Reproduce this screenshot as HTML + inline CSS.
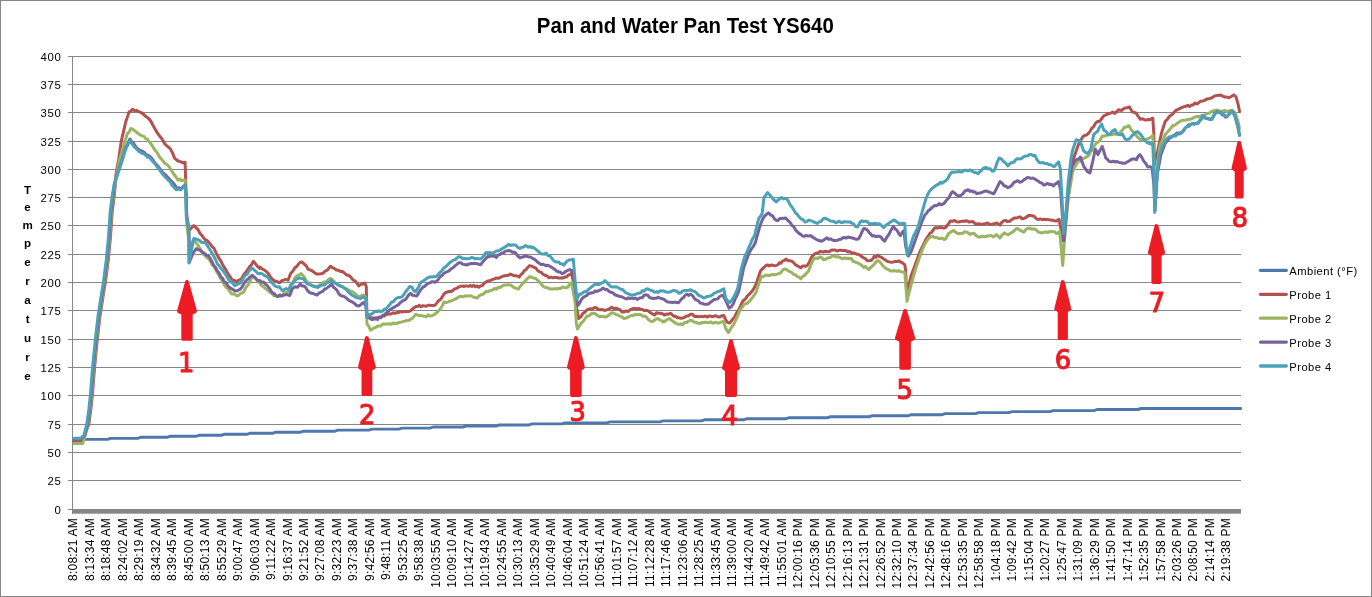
<!DOCTYPE html>
<html lang="en"><head><meta charset="utf-8"><title>Pan and Water Pan Test YS640</title>
<style>
html,body{margin:0;padding:0;background:#fff;}
body{width:1372px;height:597px;overflow:hidden;font-family:"Liberation Sans",sans-serif;}
svg{display:block;}
text{font-family:"Liberation Sans",sans-serif;fill:#000;}
.yl{font-size:11.4px;letter-spacing:0.6px;text-anchor:end;}
.xl{font-size:12px;letter-spacing:0.22px;text-anchor:end;}
.lg{font-size:11.2px;letter-spacing:0.45px;}
.yt{font-size:11.6px;font-weight:bold;text-anchor:middle;}
.num{font-family:"DejaVu Sans","Liberation Sans",sans-serif;font-size:25.7px;font-weight:normal;fill:#ed1c24;stroke:#ed1c24;stroke-width:1.1px;stroke-linejoin:round;text-anchor:middle;}
.s{fill:none;stroke-width:3.0;stroke-linejoin:round;stroke-linecap:round;}
</style></head><body>
<svg width="1372" height="597" viewBox="0 0 1372 597">
<rect x="0" y="0" width="1372" height="597" fill="#fff"/>
<rect x="0.5" y="0.5" width="1371" height="596" fill="none" stroke="#868686" stroke-width="1"/>
<text x="685.3" y="33.2" text-anchor="middle" font-size="22.3" font-weight="bold" textLength="297" lengthAdjust="spacingAndGlyphs">Pan and Water Pan Test YS640</text>

<g stroke="#868686" stroke-width="1" shape-rendering="crispEdges">
<line x1="68" y1="56.5" x2="1241" y2="56.5"/>
<line x1="68" y1="84.5" x2="1241" y2="84.5"/>
<line x1="68" y1="112.5" x2="1241" y2="112.5"/>
<line x1="68" y1="141.5" x2="1241" y2="141.5"/>
<line x1="68" y1="169.5" x2="1241" y2="169.5"/>
<line x1="68" y1="197.5" x2="1241" y2="197.5"/>
<line x1="68" y1="225.5" x2="1241" y2="225.5"/>
<line x1="68" y1="254.5" x2="1241" y2="254.5"/>
<line x1="68" y1="282.5" x2="1241" y2="282.5"/>
<line x1="68" y1="310.5" x2="1241" y2="310.5"/>
<line x1="68" y1="339.5" x2="1241" y2="339.5"/>
<line x1="68" y1="367.5" x2="1241" y2="367.5"/>
<line x1="68" y1="395.5" x2="1241" y2="395.5"/>
<line x1="68" y1="424.5" x2="1241" y2="424.5"/>
<line x1="68" y1="452.5" x2="1241" y2="452.5"/>
<line x1="68" y1="480.5" x2="1241" y2="480.5"/>
<line x1="68" y1="509.5" x2="1241" y2="509.5"/>
<line x1="72.5" y1="56" x2="72.5" y2="514"/>
</g>
<rect x="72" y="509" width="1169" height="4.7" fill="#868686"/>
<g class="yl">
<text class="yl" x="61.4" y="61.0">400</text>
<text class="yl" x="61.4" y="89.0">375</text>
<text class="yl" x="61.4" y="117.0">350</text>
<text class="yl" x="61.4" y="146.0">325</text>
<text class="yl" x="61.4" y="174.0">300</text>
<text class="yl" x="61.4" y="202.0">275</text>
<text class="yl" x="61.4" y="230.0">250</text>
<text class="yl" x="61.4" y="259.0">225</text>
<text class="yl" x="61.4" y="287.0">200</text>
<text class="yl" x="61.4" y="315.0">175</text>
<text class="yl" x="61.4" y="344.0">150</text>
<text class="yl" x="61.4" y="372.0">125</text>
<text class="yl" x="61.4" y="400.0">100</text>
<text class="yl" x="61.4" y="429.0">75</text>
<text class="yl" x="61.4" y="457.0">50</text>
<text class="yl" x="61.4" y="485.0">25</text>
<text class="yl" x="61.4" y="514.0">0</text>
</g>
<text class="yt" x="27.6" y="193.6">T</text>
<text class="yt" x="27.6" y="211.3">e</text>
<text class="yt" x="27.6" y="229.4">m</text>
<text class="yt" x="27.6" y="247.4">p</text>
<text class="yt" x="27.6" y="265.9">e</text>
<text class="yt" x="27.6" y="285.1">r</text>
<text class="yt" x="27.6" y="303.6">a</text>
<text class="yt" x="27.6" y="322.6">t</text>
<text class="yt" x="27.6" y="342.1">u</text>
<text class="yt" x="27.6" y="360.6">r</text>
<text class="yt" x="27.6" y="379.6">e</text>
<text class="xl" transform="translate(77.40,518) rotate(-90)">8:08:21 AM</text>
<text class="xl" transform="translate(93.87,518) rotate(-90)">8:13:34 AM</text>
<text class="xl" transform="translate(110.34,518) rotate(-90)">8:18:48 AM</text>
<text class="xl" transform="translate(126.81,518) rotate(-90)">8:24:02 AM</text>
<text class="xl" transform="translate(143.29,518) rotate(-90)">8:29:19 AM</text>
<text class="xl" transform="translate(159.76,518) rotate(-90)">8:34:32 AM</text>
<text class="xl" transform="translate(176.23,518) rotate(-90)">8:39:45 AM</text>
<text class="xl" transform="translate(192.70,518) rotate(-90)">8:45:00 AM</text>
<text class="xl" transform="translate(209.17,518) rotate(-90)">8:50:13 AM</text>
<text class="xl" transform="translate(225.64,518) rotate(-90)">8:55:29 AM</text>
<text class="xl" transform="translate(242.11,518) rotate(-90)">9:00:47 AM</text>
<text class="xl" transform="translate(258.59,518) rotate(-90)">9:06:03 AM</text>
<text class="xl" transform="translate(275.06,518) rotate(-90)">9:11:22 AM</text>
<text class="xl" transform="translate(291.53,518) rotate(-90)">9:16:37 AM</text>
<text class="xl" transform="translate(308.00,518) rotate(-90)">9:21:52 AM</text>
<text class="xl" transform="translate(324.47,518) rotate(-90)">9:27:08 AM</text>
<text class="xl" transform="translate(340.94,518) rotate(-90)">9:32:23 AM</text>
<text class="xl" transform="translate(357.41,518) rotate(-90)">9:37:38 AM</text>
<text class="xl" transform="translate(373.89,518) rotate(-90)">9:42:56 AM</text>
<text class="xl" transform="translate(390.36,518) rotate(-90)">9:48:11 AM</text>
<text class="xl" transform="translate(406.83,518) rotate(-90)">9:53:25 AM</text>
<text class="xl" transform="translate(423.30,518) rotate(-90)">9:58:38 AM</text>
<text class="xl" transform="translate(439.77,518) rotate(-90)">10:03:55 AM</text>
<text class="xl" transform="translate(456.24,518) rotate(-90)">10:09:10 AM</text>
<text class="xl" transform="translate(472.71,518) rotate(-90)">10:14:27 AM</text>
<text class="xl" transform="translate(489.19,518) rotate(-90)">10:19:43 AM</text>
<text class="xl" transform="translate(505.66,518) rotate(-90)">10:24:55 AM</text>
<text class="xl" transform="translate(522.13,518) rotate(-90)">10:30:13 AM</text>
<text class="xl" transform="translate(538.60,518) rotate(-90)">10:35:29 AM</text>
<text class="xl" transform="translate(555.07,518) rotate(-90)">10:40:49 AM</text>
<text class="xl" transform="translate(571.54,518) rotate(-90)">10:46:04 AM</text>
<text class="xl" transform="translate(588.01,518) rotate(-90)">10:51:24 AM</text>
<text class="xl" transform="translate(604.49,518) rotate(-90)">10:56:41 AM</text>
<text class="xl" transform="translate(620.96,518) rotate(-90)">11:01:57 AM</text>
<text class="xl" transform="translate(637.43,518) rotate(-90)">11:07:12 AM</text>
<text class="xl" transform="translate(653.90,518) rotate(-90)">11:12:28 AM</text>
<text class="xl" transform="translate(670.37,518) rotate(-90)">11:17:46 AM</text>
<text class="xl" transform="translate(686.84,518) rotate(-90)">11:23:06 AM</text>
<text class="xl" transform="translate(703.31,518) rotate(-90)">11:28:25 AM</text>
<text class="xl" transform="translate(719.79,518) rotate(-90)">11:33:45 AM</text>
<text class="xl" transform="translate(736.26,518) rotate(-90)">11:39:00 AM</text>
<text class="xl" transform="translate(752.73,518) rotate(-90)">11:44:20 AM</text>
<text class="xl" transform="translate(769.20,518) rotate(-90)">11:49:42 AM</text>
<text class="xl" transform="translate(785.67,518) rotate(-90)">11:55:01 AM</text>
<text class="xl" transform="translate(802.14,518) rotate(-90)">12:00:16 PM</text>
<text class="xl" transform="translate(818.61,518) rotate(-90)">12:05:36 PM</text>
<text class="xl" transform="translate(835.09,518) rotate(-90)">12:10:55 PM</text>
<text class="xl" transform="translate(851.56,518) rotate(-90)">12:16:13 PM</text>
<text class="xl" transform="translate(868.03,518) rotate(-90)">12:21:31 PM</text>
<text class="xl" transform="translate(884.50,518) rotate(-90)">12:26:52 PM</text>
<text class="xl" transform="translate(900.97,518) rotate(-90)">12:32:10 PM</text>
<text class="xl" transform="translate(917.44,518) rotate(-90)">12:37:34 PM</text>
<text class="xl" transform="translate(933.91,518) rotate(-90)">12:42:56 PM</text>
<text class="xl" transform="translate(950.39,518) rotate(-90)">12:48:16 PM</text>
<text class="xl" transform="translate(966.86,518) rotate(-90)">12:53:35 PM</text>
<text class="xl" transform="translate(983.33,518) rotate(-90)">12:58:58 PM</text>
<text class="xl" transform="translate(999.80,518) rotate(-90)">1:04:18 PM</text>
<text class="xl" transform="translate(1016.27,518) rotate(-90)">1:09:42 PM</text>
<text class="xl" transform="translate(1032.74,518) rotate(-90)">1:15:04 PM</text>
<text class="xl" transform="translate(1049.21,518) rotate(-90)">1:20:27 PM</text>
<text class="xl" transform="translate(1065.69,518) rotate(-90)">1:25:47 PM</text>
<text class="xl" transform="translate(1082.16,518) rotate(-90)">1:31:09 PM</text>
<text class="xl" transform="translate(1098.63,518) rotate(-90)">1:36:29 PM</text>
<text class="xl" transform="translate(1115.10,518) rotate(-90)">1:41:50 PM</text>
<text class="xl" transform="translate(1131.57,518) rotate(-90)">1:47:14 PM</text>
<text class="xl" transform="translate(1148.04,518) rotate(-90)">1:52:35 PM</text>
<text class="xl" transform="translate(1164.51,518) rotate(-90)">1:57:58 PM</text>
<text class="xl" transform="translate(1180.99,518) rotate(-90)">2:03:26 PM</text>
<text class="xl" transform="translate(1197.46,518) rotate(-90)">2:08:50 PM</text>
<text class="xl" transform="translate(1213.93,518) rotate(-90)">2:14:14 PM</text>
<text class="xl" transform="translate(1230.40,518) rotate(-90)">2:19:38 PM</text>
<polyline class="s" stroke="#4e77ab" style="stroke-width:2.9" points="74.0,439.4 107.5,439.4 110.5,438.4 137.5,438.4 140.5,437.3 167.0,437.3 170.0,436.3 196.0,436.3 199.0,435.3 221.5,435.3 224.5,434.2 247.5,434.2 250.5,433.2 273.0,433.2 276.0,432.2 300.5,432.2 303.5,431.2 335.0,431.2 338.0,430.1 369.0,430.1 372.0,429.1 399.0,429.1 402.0,428.1 430.0,428.1 433.0,427.0 463.0,427.0 466.0,426.0 496.0,426.0 499.0,425.0 529.0,425.0 532.0,423.9 562.0,423.9 565.0,422.9 607.0,422.9 610.0,421.9 660.0,421.9 663.0,420.9 701.5,420.9 704.5,419.8 743.5,419.8 746.5,418.8 785.5,418.8 788.5,417.8 827.5,417.8 830.5,416.7 869.5,416.7 872.5,415.7 908.5,415.7 911.5,414.7 942.0,414.7 945.0,413.6 975.5,413.6 978.5,412.6 1009.0,412.6 1012.0,411.6 1050.0,411.6 1053.0,410.6 1094.0,410.6 1097.0,409.5 1138.0,409.5 1141.0,408.5 1240.7,408.5"/>
<polyline class="s" stroke="#b3514f" points="74.0,441.6 82.0,441.6 88.8,424.2 90.8,409.5 92.5,393.4 94.6,367.0 97.2,340.7 100.0,316.2 102.8,298.0 105.5,281.5 108.2,260.5 110.4,237.7 112.2,211.5 114.5,194.0 116.0,174.0 118.6,160.0 121.2,141.6 125.6,122.4 129.1,111.9 130.8,111.3 132.6,109.2 134.8,110.7 137.0,110.6 138.8,111.7 140.5,112.3 142.2,113.2 144.0,114.8 145.8,116.5 147.5,117.6 149.2,119.0 151.0,121.5 152.7,124.8 154.5,128.0 156.2,131.1 158.4,134.4 160.6,137.2 162.8,140.2 165.0,144.2 166.7,145.7 168.5,147.1 170.2,148.6 172.4,152.6 174.6,158.2 176.8,160.1 179.0,161.4 181.0,161.8 183.1,162.9 185.1,162.2 185.8,185.0 186.6,216.0 188.8,229.9 189.4,229.9 191.6,227.8 193.8,225.5 196.0,227.6 198.2,229.9 199.9,233.2 201.7,235.2 203.4,237.7 205.2,239.7 206.9,240.4 208.7,242.1 210.4,244.2 212.2,246.7 213.9,248.2 215.7,252.1 217.4,255.3 219.2,258.7 220.9,261.0 222.7,264.8 224.4,267.5 226.2,270.4 227.9,273.6 229.7,276.1 231.4,278.8 233.2,280.3 234.9,280.6 236.7,281.5 238.4,280.4 240.2,279.5 241.9,278.0 243.9,274.5 246.0,271.9 248.0,269.2 249.8,266.3 251.5,264.9 253.3,261.3 255.3,263.6 257.4,266.3 259.4,268.3 260.0,267.1 262.0,268.9 264.1,269.8 266.1,271.4 268.3,273.4 270.5,277.1 272.7,279.6 274.9,281.1 276.6,281.3 278.4,282.4 280.1,282.4 281.9,280.6 283.6,280.1 285.4,279.3 288.0,280.2 290.6,273.6 292.8,271.2 295.0,267.5 296.8,266.5 298.5,264.0 300.2,262.3 302.0,262.1 304.6,264.4 306.4,266.1 308.1,269.2 310.3,270.1 312.5,271.0 314.7,272.9 316.9,274.1 318.9,273.9 321.0,273.7 323.0,273.2 325.1,271.1 327.3,270.1 330.4,266.2 332.4,267.6 334.3,268.4 336.4,270.0 338.4,270.2 340.5,271.4 342.4,271.6 344.4,273.0 346.4,274.8 348.3,275.4 350.5,276.6 352.7,279.7 355.3,281.1 357.1,283.4 358.8,285.9 360.9,284.4 362.9,284.0 365.0,283.2 366.3,286.7 366.4,292.5 367.0,317.0 368.7,317.1 370.5,317.5 372.2,317.8 374.0,318.5 375.7,317.7 377.5,318.1 379.2,317.1 381.0,317.0 382.8,316.1 384.5,315.9 386.2,314.0 388.0,314.3 389.7,314.0 391.5,313.8 393.2,312.8 394.9,313.4 396.7,312.6 398.4,312.6 400.1,311.4 401.9,312.1 403.6,311.5 405.4,311.5 407.1,311.5 408.9,311.4 410.6,310.9 412.4,309.0 414.1,307.7 415.9,306.5 417.7,306.6 419.4,305.3 421.2,306.9 422.9,305.6 424.7,306.1 426.4,306.2 428.2,305.3 429.9,305.3 431.7,305.5 433.4,305.6 435.1,305.1 436.9,302.9 438.6,300.7 440.4,299.5 442.2,297.0 443.9,294.2 445.7,292.5 447.4,292.0 449.2,291.3 450.9,291.6 452.7,290.7 454.6,288.9 456.6,288.4 458.6,287.0 460.5,286.4 462.1,285.9 463.7,286.5 465.4,286.0 467.0,286.1 468.6,286.3 470.2,285.5 471.9,286.5 473.7,285.4 475.4,286.8 477.2,285.9 478.9,287.2 480.6,285.9 482.4,285.6 484.1,283.2 485.9,282.0 487.6,281.1 489.4,280.8 491.1,280.1 492.9,279.4 494.6,278.9 496.4,277.9 498.1,278.4 499.9,277.7 501.6,276.7 503.4,276.1 505.1,275.8 506.9,275.5 508.6,275.2 510.4,274.1 512.1,274.9 513.9,275.7 515.6,275.8 517.4,275.9 519.1,277.1 520.9,274.6 522.6,273.3 524.4,270.5 526.1,269.4 527.9,267.3 529.6,265.6 531.6,266.1 533.7,267.3 535.7,267.9 537.5,270.3 539.2,271.7 541.0,272.1 542.7,274.0 544.8,275.2 546.8,275.7 548.9,277.8 550.9,277.1 552.8,277.8 554.8,277.6 556.7,277.5 558.3,278.0 559.9,278.1 561.5,277.8 563.2,278.0 564.8,276.9 566.4,277.1 568.1,275.1 569.9,274.7 571.6,273.1 575.1,289.7 576.8,309.0 578.6,318.6 580.8,316.9 583.0,313.3 585.0,312.1 587.1,309.8 589.1,309.0 590.8,308.7 592.6,308.9 594.3,307.6 596.4,307.8 598.4,309.5 600.5,309.8 602.5,309.5 604.6,310.5 606.6,309.8 608.3,309.4 610.1,308.2 611.8,307.2 613.9,308.8 615.9,308.2 618.0,309.0 620.0,309.7 622.1,312.1 624.1,312.1 626.1,310.8 628.0,311.6 630.0,309.8 632.0,309.0 633.7,308.3 635.5,308.8 637.2,308.8 638.9,308.6 640.6,309.2 642.4,309.4 644.1,310.5 645.9,310.4 647.6,310.4 649.4,312.0 651.1,313.1 652.9,314.2 654.6,315.0 656.4,312.8 658.1,313.3 659.9,313.3 662.1,313.6 664.3,315.1 666.3,314.1 668.4,314.2 670.4,313.3 672.1,314.6 673.9,316.3 675.6,316.3 677.4,317.7 679.1,317.8 680.9,318.2 682.6,318.0 684.4,317.4 686.4,316.1 688.5,315.9 690.5,314.2 692.5,314.3 694.5,316.5 696.4,316.2 698.4,316.8 700.1,316.5 701.9,316.6 703.6,316.7 705.4,316.0 707.2,317.1 708.9,316.1 710.7,316.1 712.4,316.8 714.2,316.1 715.9,315.8 717.7,316.8 719.7,316.9 721.8,315.8 723.8,315.6 726.4,321.2 728.1,322.7 729.9,323.0 732.1,319.8 734.3,317.7 736.5,312.8 738.7,309.8 740.5,306.1 742.2,302.0 743.9,300.0 745.7,298.8 747.4,295.8 749.1,294.4 750.9,292.5 752.6,290.6 754.4,287.6 756.1,284.0 760.5,271.0 762.2,269.0 764.0,267.5 765.7,265.7 767.5,264.9 769.2,265.9 771.0,265.1 772.7,265.2 774.5,265.8 776.2,265.4 777.8,264.9 779.4,262.8 781.0,263.2 782.7,260.9 784.3,260.6 785.9,259.1 787.9,260.4 790.0,260.7 792.0,261.3 793.7,262.7 795.5,264.9 797.2,265.7 799.0,266.7 800.7,267.8 802.5,266.1 804.2,265.9 806.0,266.2 807.7,264.8 809.5,261.7 811.2,257.9 813.0,255.2 814.8,253.9 816.5,253.1 818.2,252.7 820.0,251.4 821.8,251.7 823.5,252.1 825.2,251.2 827.0,251.7 829.0,251.7 831.1,250.3 833.1,250.0 835.1,249.9 837.0,251.1 839.0,250.3 841.0,250.3 842.7,250.4 844.5,250.6 846.2,250.8 848.0,252.0 849.7,251.4 851.4,252.7 853.2,252.9 854.9,253.2 856.7,254.3 858.4,254.3 860.1,255.3 861.9,256.7 863.6,257.8 865.4,258.7 867.1,260.6 868.9,260.8 870.7,260.6 872.4,259.3 874.2,256.4 875.9,257.3 877.7,255.2 879.5,256.7 881.2,257.1 883.0,258.5 884.7,259.6 886.5,260.9 888.2,261.6 890.0,262.0 891.7,262.2 893.5,261.9 895.2,261.5 897.0,261.6 898.7,260.8 900.7,262.1 902.8,263.0 904.8,264.8 905.6,270.0 906.6,292.0 908.2,288.0 911.0,276.0 915.3,264.5 919.0,254.0 920.9,249.7 922.7,246.1 924.6,242.2 926.5,238.5 928.2,236.0 930.0,233.2 932.0,231.9 934.1,228.6 935.8,227.5 937.5,228.2 939.2,227.6 941.2,227.6 943.3,227.9 945.3,227.8 948.4,224.0 950.4,220.9 952.5,221.4 954.5,220.4 956.5,221.8 958.6,221.9 960.6,221.6 962.7,221.1 964.7,221.2 966.8,220.8 968.8,221.9 970.9,221.7 972.9,221.6 974.9,223.5 976.9,224.0 979.0,223.8 981.0,224.4 983.1,224.0 985.1,223.9 987.1,223.0 988.8,223.7 990.5,224.5 992.2,224.3 994.5,223.6 996.8,223.0 999.9,225.0 1001.7,222.5 1003.5,220.9 1005.5,220.4 1007.6,221.6 1009.6,221.2 1011.3,219.9 1013.0,218.8 1014.7,217.9 1016.8,218.0 1018.8,217.1 1020.5,217.1 1022.2,218.9 1023.9,218.4 1026.2,217.3 1028.5,215.5 1030.4,215.5 1032.2,215.7 1034.1,216.3 1036.2,218.5 1038.2,219.6 1040.2,218.9 1042.2,219.6 1043.9,219.2 1045.6,219.5 1047.3,219.4 1049.0,219.8 1050.7,219.9 1052.4,220.2 1054.5,220.8 1056.5,220.9 1059.1,219.4 1061.5,232.0 1063.0,241.0 1065.5,220.0 1069.9,182.5 1072.6,161.5 1074.8,155.0 1078.4,144.8 1080.6,140.6 1082.8,136.7 1084.7,135.4 1086.7,135.0 1088.6,133.1 1090.2,131.1 1091.9,128.1 1093.5,126.9 1095.2,123.6 1097.4,121.5 1099.6,121.4 1101.8,118.5 1103.9,115.6 1106.1,114.9 1108.3,113.4 1110.5,113.2 1112.7,112.0 1114.9,113.4 1116.7,111.7 1118.5,109.8 1121.4,110.5 1123.2,109.0 1125.1,108.0 1127.2,107.8 1129.4,106.9 1132.4,112.0 1134.2,112.4 1136.0,113.0 1138.2,116.4 1140.4,119.3 1142.6,118.7 1144.8,120.0 1146.5,120.1 1148.2,119.4 1149.9,119.7 1152.8,118.2 1153.8,133.1 1154.4,165.0 1155.7,158.0 1156.4,157.9 1158.6,146.2 1161.5,133.1 1165.2,121.4 1167.3,119.4 1169.5,116.3 1171.3,115.1 1173.2,113.5 1175.0,111.2 1176.8,109.8 1178.6,109.2 1180.5,108.0 1182.3,107.5 1184.1,106.6 1185.9,106.2 1187.8,105.4 1189.6,106.5 1191.4,105.1 1193.2,104.9 1195.0,103.0 1196.9,103.9 1198.7,102.8 1200.6,101.2 1202.6,101.0 1204.5,100.3 1206.4,99.3 1208.4,98.7 1210.3,98.4 1212.5,97.3 1214.7,95.9 1216.9,95.4 1219.1,95.2 1221.0,95.0 1223.0,96.4 1224.9,97.0 1226.9,97.1 1228.8,97.8 1230.8,96.7 1233.7,94.9 1235.9,96.7 1238.0,103.9 1239.5,111.2"/>
<polyline class="s" stroke="#9bb462" points="74.0,443.6 82.8,443.6 88.2,424.2 90.2,409.5 91.9,393.4 94.0,367.0 96.6,340.7 99.4,316.2 102.2,298.0 104.9,281.5 107.6,260.5 109.8,237.7 111.6,211.5 113.9,194.0 116.0,177.5 119.5,160.0 123.0,147.7 127.3,133.7 129.1,132.1 130.8,128.5 133.0,129.4 135.2,131.1 137.4,133.1 139.6,134.6 141.8,135.6 144.0,136.4 145.7,138.6 147.5,139.1 149.2,141.6 151.0,144.0 152.7,146.4 154.5,149.5 156.2,151.5 158.0,154.2 159.7,157.3 161.5,159.1 163.2,161.3 165.0,163.5 167.2,164.8 169.3,167.0 171.5,170.7 173.7,174.0 175.9,176.8 178.1,180.1 179.8,179.1 181.6,180.8 183.3,179.9 185.1,180.1 186.0,200.0 186.8,225.0 188.8,240.0 190.3,246.5 192.1,242.4 193.8,239.1 196.0,242.5 198.2,245.6 199.9,248.6 201.7,251.4 203.4,254.3 205.2,255.6 206.9,257.9 208.7,258.7 210.4,261.3 212.2,264.9 213.9,266.3 215.7,269.7 217.4,272.7 219.2,275.8 220.9,279.0 222.7,281.8 224.4,285.0 226.2,287.4 227.9,288.4 229.7,291.4 231.4,293.7 233.2,294.0 234.9,294.3 236.7,295.8 238.4,295.5 240.2,293.7 241.9,293.1 243.7,292.0 245.8,287.5 248.0,285.0 250.2,280.7 252.4,276.2 254.2,277.0 255.9,278.8 257.7,281.5 260.0,283.2 261.8,285.9 263.5,286.7 265.2,288.5 267.0,289.6 268.7,291.1 270.5,292.7 272.2,293.4 274.0,295.9 275.8,295.5 277.5,296.4 279.7,296.3 281.9,295.9 284.1,293.1 286.2,292.4 289.3,291.1 291.1,285.0 293.1,281.6 295.0,278.0 296.8,275.7 298.5,275.4 301.1,273.6 303.7,276.2 305.4,279.3 307.2,282.4 309.0,282.7 310.7,285.3 312.5,285.4 314.7,286.5 316.9,286.7 319.1,285.2 321.2,284.5 323.0,282.5 324.7,282.0 326.5,281.5 328.2,279.9 330.0,278.4 331.8,279.3 333.5,281.5 335.2,282.8 337.0,284.3 338.7,285.0 340.5,285.8 342.2,286.4 344.0,287.6 345.8,288.8 347.5,289.1 349.2,290.6 351.0,291.1 353.1,292.1 355.3,293.7 357.5,296.1 359.7,296.8 361.4,295.7 363.2,295.0 365.8,297.2 367.0,324.0 368.8,326.4 370.5,330.1 372.2,329.2 374.0,327.9 375.7,327.5 377.5,326.3 379.2,326.1 381.0,325.9 382.7,323.9 384.5,324.3 386.2,324.1 388.0,323.9 389.8,323.8 391.5,324.2 393.2,322.9 395.0,323.6 396.8,323.5 398.5,322.6 400.2,322.3 402.0,321.9 403.7,321.4 405.4,320.9 407.2,320.5 408.9,320.5 410.6,319.1 412.4,318.4 414.1,316.4 415.9,314.3 417.6,315.2 419.4,315.4 421.1,315.3 422.9,316.1 424.6,316.2 426.4,316.8 428.1,314.9 429.9,315.9 431.6,315.9 433.4,315.2 435.2,313.8 436.9,312.6 438.7,310.8 440.4,308.6 442.2,306.0 443.9,302.1 445.7,302.4 447.4,302.3 449.2,301.2 450.9,301.1 452.7,300.3 454.6,299.4 456.6,298.4 458.6,297.0 460.5,296.3 462.1,296.5 463.7,296.8 465.4,295.8 467.0,295.9 468.6,296.0 470.2,295.6 471.9,296.2 473.7,297.3 475.4,297.6 477.2,298.1 478.9,296.1 480.7,294.9 482.4,294.6 484.2,293.2 485.9,291.6 487.6,291.8 489.4,290.9 491.1,290.4 492.9,289.9 494.6,288.3 496.4,289.2 498.1,287.3 499.9,287.7 501.6,286.4 503.4,285.3 505.1,285.1 506.9,285.1 508.6,284.6 510.2,285.1 511.8,285.7 513.5,287.3 515.1,287.9 516.7,288.5 518.3,289.0 520.3,286.4 522.4,283.8 524.4,281.9 526.1,279.9 527.9,278.1 529.6,276.6 531.6,277.2 533.7,278.2 535.7,278.4 537.5,280.2 539.2,281.7 541.0,283.7 542.7,285.9 544.5,287.3 546.2,287.4 548.0,288.2 549.7,288.8 551.5,288.9 553.2,288.9 555.0,288.6 556.7,289.0 558.5,288.3 560.5,288.6 562.5,286.9 564.4,287.7 566.4,287.6 568.1,287.0 569.9,283.6 571.6,282.7 575.1,302.0 576.3,323.0 577.4,329.1 579.3,326.1 581.2,323.0 583.2,321.3 585.3,318.3 587.3,316.0 589.4,315.8 591.4,313.5 593.5,313.3 595.5,313.8 597.6,315.5 599.6,316.8 601.4,316.4 603.1,316.2 604.9,317.1 606.6,316.8 608.3,315.6 610.1,314.1 611.8,312.8 613.9,313.3 615.9,314.5 618.0,315.1 620.0,316.2 622.1,317.0 624.1,318.6 625.9,318.1 627.6,317.3 629.4,316.4 631.1,315.6 633.0,315.7 635.0,314.5 637.0,314.8 638.9,314.6 641.0,314.8 643.0,316.3 645.1,316.0 646.9,317.7 648.6,319.8 650.4,321.1 652.1,321.6 654.1,320.4 656.2,319.0 658.2,318.6 659.9,320.0 661.7,320.8 663.4,322.1 665.5,320.9 667.5,319.2 669.6,318.6 671.6,320.5 673.7,321.8 675.7,323.3 677.5,323.9 679.2,324.2 681.0,323.9 682.7,324.7 684.6,322.6 686.6,322.4 688.5,321.1 690.5,320.3 692.2,320.7 694.0,322.2 695.8,322.3 697.5,323.0 699.5,323.6 701.5,322.6 703.4,322.7 705.4,322.1 707.2,322.5 708.9,322.8 710.7,321.8 712.4,323.2 714.2,322.8 715.9,322.3 717.7,323.0 719.7,322.7 721.8,322.0 723.8,321.2 725.5,328.2 728.5,332.6 731.6,327.3 733.8,324.1 736.0,319.5 738.2,314.6 740.4,309.0 742.1,307.4 743.9,304.6 745.6,303.7 747.4,303.2 749.1,301.6 750.9,299.3 752.6,297.4 754.4,294.9 756.1,292.3 758.7,284.0 761.4,276.2 763.4,276.6 765.5,275.1 767.5,275.3 769.2,275.5 771.0,275.0 772.7,274.3 774.5,274.9 776.2,274.5 777.8,273.8 779.4,273.7 781.0,272.4 782.7,270.1 784.3,269.1 785.9,269.2 787.9,270.5 789.8,271.7 791.8,272.7 793.7,274.5 795.5,274.8 797.2,276.5 799.0,277.1 800.7,278.8 802.7,276.5 804.6,275.4 806.6,273.1 808.6,271.0 810.3,266.5 812.1,262.2 813.8,258.7 815.9,258.0 817.9,258.5 820.0,257.0 821.7,257.6 823.5,259.7 825.2,259.6 827.0,258.3 828.7,257.7 830.5,257.4 832.2,256.1 834.2,256.1 836.1,257.0 838.1,256.6 840.1,257.8 841.7,258.3 843.3,258.7 844.9,257.9 846.5,258.5 848.1,258.3 849.7,258.7 851.4,258.6 853.2,261.5 854.9,261.7 856.7,262.7 858.4,263.1 860.1,264.4 861.9,265.4 863.6,267.4 865.4,266.4 867.1,268.3 868.9,269.6 870.7,267.6 872.4,265.9 874.2,264.5 875.9,261.9 877.7,260.5 879.5,261.5 881.2,263.4 883.0,266.0 884.7,267.5 886.7,268.9 888.6,269.7 890.6,271.0 892.6,271.0 894.6,270.6 896.7,271.3 898.7,270.6 900.7,271.7 902.8,271.9 904.8,272.7 905.7,284.0 907.0,301.4 908.8,294.0 911.6,283.0 914.4,273.0 917.1,264.5 920.0,256.0 922.7,248.8 925.5,243.0 928.2,238.7 930.5,237.1 932.8,236.3 934.8,237.6 936.9,237.5 938.9,238.6 940.6,238.4 942.4,238.1 944.1,239.6 945.9,238.6 945.8,238.8 948.4,233.7 950.1,232.6 951.8,231.4 953.5,230.6 955.5,232.0 957.6,233.7 959.3,233.4 961.0,233.4 962.7,233.2 964.7,231.7 966.7,232.1 969.8,234.2 972.9,233.2 974.6,233.7 976.3,235.8 978.0,236.7 980.0,237.3 982.1,236.1 984.1,236.7 985.8,236.5 987.5,235.8 989.2,235.9 991.2,235.4 993.3,236.9 995.0,235.6 996.8,234.7 999.9,238.0 1002.2,234.8 1004.5,232.9 1006.5,234.2 1008.6,234.5 1010.6,233.2 1012.7,232.1 1014.5,230.4 1016.2,228.8 1018.0,228.6 1019.8,230.1 1021.9,231.2 1023.9,232.1 1026.2,229.1 1028.5,228.1 1030.4,228.4 1032.2,229.3 1034.1,228.8 1036.2,229.8 1038.2,232.1 1040.2,232.6 1042.3,232.9 1044.3,232.1 1045.9,231.9 1047.5,232.5 1049.2,231.8 1050.8,231.4 1052.4,231.6 1054.5,231.7 1056.5,233.7 1059.6,231.6 1061.0,245.0 1062.7,265.4 1064.5,240.0 1068.0,200.0 1072.6,172.0 1074.8,167.0 1076.9,163.2 1078.7,160.9 1080.4,161.3 1082.2,158.9 1084.2,158.1 1086.3,157.0 1088.3,156.2 1090.3,152.0 1092.4,150.2 1094.4,145.7 1096.2,143.3 1097.9,142.2 1100.1,140.0 1102.3,136.1 1104.5,136.2 1106.7,135.2 1108.4,135.1 1110.2,134.5 1111.9,134.7 1113.7,133.8 1115.4,134.4 1117.2,133.9 1118.9,133.5 1120.7,131.7 1122.5,130.0 1124.3,127.3 1126.5,127.0 1128.7,125.5 1131.6,130.2 1133.8,132.4 1136.0,135.3 1138.2,137.7 1140.4,139.7 1142.6,139.5 1144.8,140.4 1147.0,139.1 1149.1,138.2 1151.0,137.2 1152.8,135.3 1153.9,160.0 1154.8,200.0 1156.5,175.0 1159.1,151.0 1160.8,143.3 1163.0,139.9 1165.2,134.6 1167.1,132.4 1169.1,130.2 1171.0,128.0 1172.9,125.5 1174.9,125.2 1176.8,123.6 1178.6,122.3 1180.5,121.2 1182.3,120.3 1184.1,120.3 1186.0,120.0 1188.0,119.4 1189.9,119.3 1191.9,118.8 1193.8,117.5 1195.8,116.8 1197.7,116.4 1199.7,116.8 1201.6,115.6 1203.5,115.3 1205.5,114.6 1207.4,113.4 1209.6,113.1 1211.8,111.2 1214.0,110.8 1216.2,110.1 1218.4,110.2 1220.6,111.5 1222.5,111.0 1224.5,110.4 1226.4,111.2 1228.3,111.2 1230.3,110.5 1232.2,110.5 1235.1,112.7 1238.0,121.4 1239.5,128.7"/>
<polyline class="s" stroke="#77629b" points="74.0,439.5 80.8,439.5 84.9,434.9 87.6,424.2 89.6,409.5 91.3,393.4 93.4,367.0 96.0,340.7 98.8,316.2 101.6,298.0 104.3,281.5 107.0,260.5 109.2,237.7 111.0,211.5 113.3,194.0 114.4,183.5 117.9,172.5 121.4,162.0 125.6,148.0 127.8,143.6 130.0,139.0 131.6,141.8 133.2,142.8 134.8,145.5 137.0,148.3 139.2,150.0 141.0,150.7 142.7,151.5 144.5,152.5 146.2,154.8 148.0,155.2 149.8,156.4 151.5,157.8 153.5,160.8 155.6,163.7 157.6,165.7 159.6,168.3 161.7,171.2 163.7,173.5 165.4,174.7 167.2,176.8 168.9,178.5 170.7,180.5 172.7,182.4 174.8,184.9 176.8,188.4 178.8,187.8 180.7,189.0 182.9,186.9 185.1,185.0 186.2,194.0 186.8,216.7 189.0,229.0 189.4,262.2 191.2,257.8 192.9,253.5 194.7,250.9 196.4,248.6 198.2,249.7 199.9,249.9 201.7,251.7 203.4,252.8 205.2,254.0 206.9,255.4 208.7,256.1 210.4,258.8 212.2,262.3 213.9,265.7 215.7,267.6 217.4,271.1 219.2,273.2 220.9,277.1 222.7,278.5 224.4,282.1 226.2,282.6 227.9,285.8 229.7,287.6 231.4,288.6 233.2,289.6 234.9,291.1 236.7,290.8 238.4,290.2 240.2,289.3 241.9,287.3 243.7,284.0 245.4,281.5 247.2,279.6 248.9,278.1 250.7,276.3 252.4,275.3 254.2,277.0 255.9,278.4 257.7,280.6 260.0,280.6 261.7,282.4 263.5,281.9 265.2,284.1 266.9,285.2 268.7,287.6 270.4,289.7 272.2,292.9 273.9,293.2 275.7,295.5 277.8,296.6 279.8,294.8 281.9,295.9 284.1,295.1 286.2,294.6 287.9,294.8 289.7,295.5 292.4,288.5 295.0,286.7 297.6,287.2 300.2,284.1 301.9,285.9 303.7,285.9 305.4,287.1 307.2,290.2 309.4,292.3 311.6,293.3 313.4,293.5 315.1,294.4 316.9,295.0 319.1,293.1 321.2,292.0 323.0,291.2 324.7,289.0 326.5,288.5 328.2,287.0 330.0,285.8 331.7,284.1 333.4,287.3 335.2,288.5 336.9,290.1 338.7,293.7 340.5,295.4 342.2,296.0 344.0,296.4 346.1,297.9 348.3,299.9 350.4,301.2 352.4,302.0 354.5,303.4 356.6,305.6 358.8,306.0 360.4,304.9 362.0,303.6 363.6,302.5 365.8,306.0 367.0,317.0 368.7,317.7 370.5,318.6 372.2,319.6 374.0,319.1 375.7,318.4 377.5,319.5 379.2,317.2 381.0,317.8 382.7,315.2 384.5,314.6 386.2,313.0 388.0,311.8 389.7,310.0 391.4,308.8 393.2,307.7 394.9,306.9 396.7,305.6 398.4,304.8 400.2,302.7 401.9,301.4 403.7,300.3 405.4,299.6 407.2,297.1 408.9,294.6 410.7,293.4 412.7,295.3 414.8,295.6 416.8,296.0 418.8,292.7 420.9,289.5 422.9,287.2 424.6,286.3 426.4,284.6 428.1,283.4 429.9,282.9 431.6,281.7 433.4,281.7 435.1,282.2 436.9,281.1 438.6,278.9 440.4,276.4 442.1,275.5 443.9,273.2 445.7,272.2 447.4,271.6 449.2,270.7 450.9,268.9 452.7,268.0 454.7,266.1 456.8,264.4 458.8,262.7 460.8,262.7 462.9,264.3 464.9,264.5 466.7,265.1 468.4,264.2 470.2,263.8 471.9,263.6 473.7,263.6 475.4,263.5 477.2,263.8 478.9,264.3 480.7,264.8 482.4,262.2 484.2,260.3 485.9,258.4 487.6,256.6 489.4,256.8 491.1,255.7 492.9,256.3 494.6,256.3 496.4,257.5 498.1,255.0 499.9,254.6 501.6,253.1 503.4,253.1 505.1,251.4 506.9,250.9 508.6,250.5 510.4,250.8 512.1,252.2 513.9,251.9 515.6,253.1 517.8,256.0 520.0,257.9 521.7,257.0 523.5,256.9 525.2,255.6 527.0,256.3 528.7,256.9 530.5,256.9 532.2,258.0 534.0,259.1 535.8,260.3 537.5,262.1 539.2,263.2 541.0,264.4 542.8,264.2 544.5,265.0 546.2,265.5 548.0,265.2 549.8,266.2 551.5,267.2 553.2,268.3 555.0,269.6 556.8,271.1 558.5,271.9 560.2,272.1 562.0,273.6 564.0,272.8 566.0,271.3 567.9,270.2 569.9,269.6 571.6,270.7 573.4,270.5 575.6,291.5 577.7,305.5 579.5,303.3 581.2,299.8 583.0,297.6 584.8,296.5 586.5,295.7 588.2,293.9 590.0,293.2 591.8,292.7 593.5,292.7 595.2,290.9 597.0,291.5 599.0,290.5 601.1,289.6 603.1,288.0 605.1,289.4 607.0,289.4 609.0,291.4 611.0,292.3 612.8,292.7 614.5,294.4 616.2,295.3 618.0,295.8 619.8,296.6 621.5,296.7 623.2,297.5 625.0,298.5 626.8,298.9 628.5,297.8 630.2,298.5 632.0,298.1 633.7,298.5 635.5,298.1 637.2,299.4 638.9,298.5 640.6,297.7 642.4,297.8 644.1,294.9 645.9,295.0 647.6,294.9 649.4,297.3 651.1,298.0 652.9,298.5 654.6,298.2 656.4,298.3 658.1,297.2 659.9,298.1 661.7,298.5 663.4,299.1 665.2,300.3 666.9,301.7 668.7,302.0 670.6,302.2 672.5,302.5 674.5,302.1 676.4,302.4 678.3,302.8 680.0,300.9 681.8,298.7 683.5,297.6 685.3,295.0 687.0,294.2 688.8,295.4 690.5,294.1 692.6,295.6 694.6,298.8 696.7,300.2 698.5,300.8 700.2,303.1 702.0,303.2 703.7,304.1 705.4,304.2 707.2,304.2 708.9,303.7 710.6,302.2 712.4,300.9 714.1,299.4 715.9,299.3 717.6,298.9 719.4,296.8 721.1,295.8 722.9,295.0 724.6,298.5 726.4,302.0 729.0,308.1 731.2,306.9 733.4,303.7 735.2,298.7 736.9,295.7 738.7,291.5 743.9,267.0 749.1,253.0 751.1,249.4 753.2,246.6 755.2,243.0 759.6,227.2 761.8,221.0 764.0,216.7 766.2,214.6 768.4,212.9 770.5,214.9 772.7,215.9 774.5,218.9 776.2,220.2 778.0,220.5 779.7,218.6 781.5,218.5 783.7,218.3 785.9,218.1 787.9,220.5 790.0,222.3 792.0,225.5 793.8,226.7 795.5,229.9 797.2,231.6 799.0,233.4 800.7,234.3 802.5,236.0 804.2,236.3 806.2,235.5 808.3,236.1 810.3,235.6 812.4,236.9 814.4,238.2 816.5,239.5 818.2,240.3 820.0,240.7 821.7,241.2 823.5,240.2 825.2,239.0 827.0,237.7 828.7,239.4 830.5,238.9 832.2,239.8 834.0,240.5 835.7,240.5 837.5,240.3 839.2,239.4 841.0,239.3 842.8,237.7 844.5,237.4 846.2,238.1 848.0,237.1 849.8,237.4 851.5,237.7 853.2,238.2 855.0,238.9 856.7,239.2 858.4,239.1 860.2,236.1 861.9,232.0 863.7,228.6 865.5,228.7 867.2,229.9 868.9,232.2 870.7,234.1 872.4,236.0 874.1,235.6 875.9,236.7 877.6,236.3 879.4,236.3 881.2,237.4 882.9,239.8 884.7,241.2 886.9,237.0 889.1,234.2 891.2,229.8 893.4,226.4 895.1,228.9 896.9,230.1 898.6,233.3 900.4,235.6 902.1,232.4 903.9,230.7 905.7,246.5 908.3,256.1 910.0,253.5 911.8,250.0 916.2,237.7 920.5,225.5 922.7,219.8 924.9,215.0 926.6,213.3 928.3,210.6 930.0,209.6 932.2,207.4 934.4,205.6 936.0,205.8 937.6,205.2 939.2,203.6 940.8,204.7 942.4,204.3 944.0,203.5 945.8,201.1 947.5,199.1 949.2,197.4 951.0,193.5 952.7,191.6 954.8,193.1 956.8,195.2 958.9,196.1 960.9,195.4 962.8,193.9 964.8,191.2 966.7,190.3 968.3,189.8 970.0,191.4 971.6,190.8 973.2,191.9 974.8,191.7 976.5,193.5 978.1,193.3 980.1,193.1 982.0,192.4 984.0,191.5 986.0,190.9 988.0,191.7 989.9,192.2 991.9,193.3 993.8,193.8 995.9,189.9 997.9,185.9 1000.0,181.6 1002.0,182.9 1003.9,185.7 1005.9,186.3 1007.8,187.7 1009.8,186.9 1011.8,185.4 1013.7,182.6 1015.7,181.6 1017.7,180.7 1019.8,182.3 1021.8,181.6 1023.6,180.1 1025.3,179.0 1027.1,177.6 1029.0,177.8 1031.0,178.4 1033.0,178.0 1034.9,179.0 1036.7,180.2 1038.4,181.2 1040.2,182.7 1041.9,182.9 1043.7,185.1 1045.5,184.7 1047.2,183.3 1049.2,184.4 1051.3,184.2 1053.3,186.0 1055.1,184.1 1056.8,183.1 1058.6,181.6 1060.6,190.0 1062.3,215.0 1064.0,240.5 1066.0,217.5 1068.4,187.7 1071.9,166.0 1073.5,163.7 1075.2,160.6 1076.9,159.4 1078.7,159.0 1080.4,157.1 1083.9,166.7 1085.7,169.2 1087.4,171.6 1090.0,172.9 1092.7,161.5 1095.3,149.2 1097.9,154.5 1100.1,150.0 1102.3,146.6 1105.8,158.0 1107.5,159.4 1109.3,161.5 1111.3,161.9 1113.2,161.2 1115.2,162.0 1117.2,161.5 1119.2,162.5 1121.1,162.7 1123.0,163.3 1125.0,163.2 1127.0,162.0 1129.0,161.0 1130.9,159.7 1132.9,158.9 1134.7,159.0 1136.4,159.7 1138.2,156.2 1139.9,154.5 1141.7,157.2 1143.4,160.6 1145.6,163.3 1147.8,167.1 1150.0,166.6 1152.1,167.6 1153.9,185.0 1155.0,211.0 1157.4,173.7 1160.8,155.0 1165.2,143.3 1167.3,140.8 1169.5,138.2 1171.3,137.2 1173.2,135.5 1175.0,135.1 1176.8,133.1 1179.0,133.3 1181.2,132.5 1183.1,131.1 1185.1,128.2 1187.0,126.5 1188.7,124.7 1190.4,124.9 1192.1,123.6 1194.1,123.6 1196.0,123.6 1198.0,123.0 1199.7,120.9 1201.4,119.0 1203.1,116.0 1206.0,118.5 1207.9,118.6 1209.9,119.4 1211.8,119.3 1213.7,115.7 1215.5,113.0 1217.2,111.8 1218.9,112.4 1220.6,112.5 1222.3,114.9 1224.0,114.8 1225.7,117.3 1227.3,116.4 1229.0,114.0 1230.6,112.7 1232.2,111.5 1235.1,116.3 1238.0,127.3 1239.5,135.3"/>
<polyline class="s" stroke="#4ba1b8" points="74.0,438.3 80.8,438.3 84.1,434.9 86.8,424.2 88.8,409.5 90.5,393.4 92.6,367.0 95.2,340.7 98.0,316.2 100.8,298.0 103.5,281.5 106.2,260.5 108.4,237.7 110.2,211.5 112.5,194.0 114.2,184.5 117.7,174.0 121.2,163.5 125.6,149.5 127.8,145.1 130.0,140.7 132.2,144.0 134.3,146.8 136.5,148.8 138.7,151.2 140.5,152.3 142.2,153.4 144.0,153.8 145.8,155.3 147.5,157.3 149.2,157.3 151.0,159.1 153.0,161.8 155.1,164.0 157.1,167.0 159.1,169.2 161.2,172.1 163.2,174.8 164.9,176.7 166.7,178.5 168.4,180.3 170.2,181.8 172.2,185.4 174.3,187.5 176.3,189.7 178.5,189.0 180.7,190.0 182.9,187.8 185.1,185.3 185.8,194.0 186.3,216.7 188.6,229.0 188.9,263.1 193.8,238.6 195.7,238.9 197.5,239.5 199.4,240.4 201.3,242.2 203.2,242.4 205.0,242.6 206.9,244.7 208.7,247.8 210.4,250.4 212.2,253.5 213.9,256.4 215.7,260.0 217.4,264.0 219.2,265.8 220.9,268.3 222.7,270.3 224.4,272.7 226.4,275.7 228.5,279.6 230.5,281.5 232.7,283.2 234.9,285.8 236.7,284.5 238.4,283.9 240.2,283.2 241.9,281.2 243.7,277.5 245.4,275.3 247.2,274.3 248.9,271.1 250.7,269.5 252.4,268.3 254.2,270.0 255.9,271.4 257.7,273.6 260.0,273.2 261.8,273.6 263.5,274.9 265.2,275.9 267.0,276.2 269.2,279.4 271.4,282.4 273.1,284.0 274.9,285.9 277.1,287.0 279.2,286.7 280.9,288.9 282.7,290.7 284.4,289.5 286.2,288.5 288.9,289.8 290.6,285.0 292.8,283.5 295.0,280.6 297.2,278.8 299.4,278.0 301.6,278.5 303.7,278.9 305.4,281.7 307.2,283.7 309.0,284.4 310.7,284.9 312.5,285.9 314.2,286.7 316.0,286.7 317.7,287.6 319.5,286.4 321.2,285.3 323.0,285.0 324.7,284.9 326.5,283.0 328.2,282.4 329.9,281.9 331.7,280.2 333.4,281.9 335.2,283.2 336.9,283.9 338.7,285.3 340.4,286.0 342.2,286.7 344.0,288.2 345.7,288.9 347.5,291.1 349.2,292.6 351.0,294.5 352.7,295.5 354.7,296.6 356.8,297.8 358.8,298.1 360.6,298.5 362.3,297.5 364.1,296.8 365.8,299.0 367.0,317.0 369.6,314.3 371.8,314.2 374.0,312.1 375.8,311.2 377.5,311.8 379.2,310.8 381.0,311.7 382.8,310.9 384.5,309.1 386.2,308.7 388.0,306.5 389.8,304.6 391.5,302.0 393.2,301.9 395.0,299.5 396.8,298.1 398.5,297.4 400.2,297.4 402.0,296.8 403.9,294.6 405.9,291.3 407.9,289.1 409.8,286.4 411.8,287.1 413.9,290.8 415.9,291.6 417.7,288.4 419.4,285.3 421.2,282.0 422.9,281.2 424.7,279.9 426.4,278.8 428.2,277.6 429.9,276.8 431.7,276.9 433.4,276.8 435.2,276.8 436.9,275.9 438.6,273.9 440.4,272.0 442.1,270.2 443.9,268.0 445.6,266.8 447.4,265.1 449.1,263.3 450.9,261.9 452.9,260.3 454.9,259.9 456.8,258.1 458.8,256.6 460.8,257.2 462.9,258.8 464.9,258.4 466.7,258.8 468.4,258.7 470.2,258.2 471.9,257.5 473.7,258.0 475.4,258.9 477.2,258.4 478.9,258.7 480.7,258.9 482.4,257.4 484.2,255.3 485.9,252.6 487.6,252.7 489.4,252.4 491.1,253.4 492.9,252.6 494.6,252.2 496.4,250.9 498.1,251.1 499.9,250.0 501.6,249.1 503.4,247.9 505.1,247.1 506.9,245.7 508.6,244.4 510.4,245.5 512.1,244.8 513.9,244.9 515.6,244.9 517.8,247.3 520.0,248.4 521.7,247.2 523.5,247.1 525.2,245.6 526.8,246.1 528.4,247.2 530.0,246.6 531.7,247.8 533.3,247.2 534.9,248.6 536.9,250.1 539.0,252.1 541.0,253.9 542.7,253.9 544.5,254.3 546.2,253.0 548.0,255.8 549.7,255.8 551.5,257.8 553.2,260.0 555.0,261.6 556.7,262.0 558.5,261.9 560.2,263.7 562.0,263.7 563.7,265.2 565.5,263.0 567.2,261.0 569.0,260.0 571.2,259.7 573.4,259.6 575.1,281.0 576.8,299.3 579.5,294.1 581.2,294.2 583.0,292.6 584.7,291.4 586.5,291.6 588.2,289.7 590.0,288.1 591.7,286.8 593.5,285.4 595.2,284.1 597.4,284.5 599.6,284.5 601.3,283.0 603.1,282.7 604.8,280.6 606.9,282.4 608.9,284.9 611.0,286.6 613.0,287.1 614.9,286.8 616.9,287.1 618.8,288.0 620.8,289.3 622.8,289.6 624.7,291.9 626.7,293.2 628.5,293.9 630.2,294.7 632.0,295.3 633.7,294.7 635.5,294.4 637.2,293.5 638.9,293.2 640.7,292.7 642.4,290.6 644.2,291.1 645.9,289.2 647.7,288.8 649.5,289.9 651.2,290.3 653.0,291.2 654.7,292.3 656.5,291.6 658.2,292.4 660.0,290.8 661.7,291.1 663.5,290.7 665.2,291.8 667.0,292.1 668.7,292.3 670.7,291.8 672.8,290.6 674.8,290.6 677.0,291.5 679.2,293.2 680.9,292.8 682.7,290.9 684.4,290.6 686.4,290.6 688.5,290.4 690.5,289.7 692.6,290.9 694.6,291.4 696.7,293.2 698.5,295.4 700.2,295.7 702.0,297.0 703.7,298.1 705.5,297.3 707.2,296.4 709.0,296.2 710.7,295.8 712.5,294.8 714.2,293.2 716.0,292.6 717.7,291.5 719.7,291.2 721.8,289.9 723.8,288.8 725.5,297.6 727.2,300.1 729.0,302.8 731.2,300.8 733.4,297.6 735.6,293.3 737.8,288.0 741.3,268.7 744.8,256.5 747.0,252.2 749.1,246.9 750.9,242.8 752.6,238.6 754.4,236.0 758.7,218.5 760.5,216.3 762.2,213.2 764.0,197.5 765.8,195.1 767.5,192.6 769.7,194.8 771.9,197.5 774.0,200.0 776.2,201.9 778.0,200.2 779.7,198.6 781.5,197.5 783.7,198.9 785.9,198.4 787.9,200.4 790.0,204.7 792.0,207.1 793.8,210.1 795.5,212.9 797.2,214.4 799.0,216.7 801.0,218.8 803.1,219.7 805.1,222.0 806.8,221.6 808.6,220.1 810.3,220.6 812.0,221.0 813.8,222.0 815.5,222.6 817.3,223.4 819.3,221.8 821.2,221.4 823.2,218.6 825.2,218.1 827.0,219.2 828.7,219.9 830.5,221.1 832.2,221.3 834.0,221.6 835.8,222.8 837.5,222.0 839.2,221.3 841.0,222.5 842.8,222.5 844.5,221.6 846.2,221.9 848.0,221.9 849.8,221.9 851.5,222.9 853.5,223.8 855.6,226.6 857.6,226.9 860.2,222.0 861.9,220.7 863.7,221.7 865.4,221.1 867.1,221.5 868.9,223.6 870.6,223.5 872.4,224.1 874.1,223.3 875.9,223.6 877.6,223.9 879.4,223.7 881.6,225.7 883.8,227.6 886.0,225.1 888.2,223.7 890.2,222.3 892.3,220.9 894.3,219.9 896.1,221.4 897.8,222.6 899.6,223.7 901.3,223.7 903.1,223.2 904.8,223.4 905.7,239.5 907.4,255.2 910.0,247.3 913.5,236.0 915.7,232.0 917.9,227.2 922.3,211.5 925.8,199.2 927.5,195.0 929.3,191.4 931.3,189.2 933.2,187.6 935.2,186.0 937.0,184.9 938.7,184.1 940.5,182.3 942.2,183.2 944.0,181.9 945.7,180.7 947.8,178.5 949.8,174.7 951.9,172.0 953.9,172.3 955.8,171.9 957.8,171.7 959.7,171.6 961.8,172.1 963.8,170.3 965.9,170.2 967.9,170.8 970.0,169.8 972.0,171.1 974.0,172.3 976.1,172.7 978.1,173.7 979.9,171.6 981.6,170.3 983.4,168.1 985.1,167.6 986.8,167.7 988.6,169.1 990.3,168.7 992.1,171.0 993.8,171.1 995.6,167.3 997.3,162.0 999.1,158.0 1001.3,158.9 1003.5,161.5 1005.6,162.9 1007.8,165.9 1009.8,163.7 1011.8,162.4 1013.7,162.2 1015.7,159.7 1017.5,158.6 1019.2,159.1 1021.0,158.8 1022.7,157.6 1024.5,156.3 1026.2,155.9 1028.0,155.7 1029.7,154.5 1031.4,154.4 1033.2,155.8 1034.9,155.4 1037.1,159.9 1039.3,162.4 1041.3,162.7 1043.2,162.6 1045.2,163.6 1047.2,163.6 1049.0,164.6 1050.7,164.7 1052.5,165.8 1054.2,166.7 1056.4,164.3 1058.6,161.8 1060.3,168.5 1062.1,200.0 1063.7,233.7 1065.6,217.5 1068.2,182.5 1070.8,159.7 1072.5,150.6 1076.2,139.7 1078.0,140.3 1079.9,140.4 1083.5,150.6 1085.7,152.7 1087.9,153.5 1090.8,149.1 1093.7,134.6 1095.5,132.8 1097.4,131.6 1099.5,127.1 1101.7,124.1 1103.9,130.2 1106.1,131.5 1108.3,134.6 1110.0,134.3 1111.6,131.8 1113.2,130.6 1114.9,129.5 1116.7,133.1 1118.5,134.6 1120.3,134.8 1122.2,133.8 1125.1,138.9 1127.2,139.9 1129.4,138.9 1131.2,136.7 1133.1,134.6 1135.3,132.7 1137.5,131.6 1139.7,133.5 1141.8,136.0 1144.0,139.3 1146.2,141.9 1148.4,143.2 1150.6,144.0 1152.8,143.3 1153.9,173.7 1154.7,212.4 1156.5,182.5 1157.8,166.6 1159.3,155.0 1162.2,146.2 1164.4,142.8 1166.6,138.9 1169.5,136.7 1171.7,137.3 1173.9,136.0 1175.7,136.0 1177.5,133.9 1179.4,134.1 1181.2,133.1 1183.1,131.2 1185.1,128.3 1187.0,126.5 1188.7,126.5 1190.4,125.1 1192.1,123.6 1194.1,124.4 1196.0,123.3 1198.0,123.6 1199.7,120.3 1201.4,118.7 1203.1,115.6 1206.0,118.5 1207.9,118.7 1209.9,118.7 1211.8,119.3 1213.7,116.0 1215.5,112.7 1217.2,112.6 1218.9,112.3 1220.6,112.0 1222.3,113.3 1224.0,115.1 1225.7,116.3 1227.3,116.0 1229.0,114.2 1230.6,112.0 1232.2,110.9 1235.1,116.3 1238.0,127.3 1239.5,135.3"/>
<line x1="1260.5" y1="270.3" x2="1286.3" y2="270.3" stroke="#4e77ab" stroke-width="3.3" stroke-linecap="round"/>
<text class="lg" x="1289.3" y="274.8">Ambient (°F)</text>
<line x1="1260.5" y1="294.3" x2="1286.3" y2="294.3" stroke="#b3514f" stroke-width="3.3" stroke-linecap="round"/>
<text class="lg" x="1289.3" y="298.8">Probe 1</text>
<line x1="1260.5" y1="318.2" x2="1286.3" y2="318.2" stroke="#9bb462" stroke-width="3.3" stroke-linecap="round"/>
<text class="lg" x="1289.3" y="322.7">Probe 2</text>
<line x1="1260.5" y1="342.1" x2="1286.3" y2="342.1" stroke="#77629b" stroke-width="3.3" stroke-linecap="round"/>
<text class="lg" x="1289.3" y="346.6">Probe 3</text>
<line x1="1260.5" y1="366.0" x2="1286.3" y2="366.0" stroke="#4ba1b8" stroke-width="3.3" stroke-linecap="round"/>
<text class="lg" x="1289.3" y="370.5">Probe 4</text>
<polygon fill="#ed1c24" stroke="#ed1c24" stroke-width="3.8" stroke-linejoin="round" points="187.0,281.9 195.1,311.2 190.8,313.3 190.8,338.9 183.2,338.9 183.2,313.3 178.9,311.2"/>
<text class="num" x="186.1" y="372.0">1</text>
<polygon fill="#ed1c24" stroke="#ed1c24" stroke-width="3.8" stroke-linejoin="round" points="366.9,338.0 373.9,367.3 370.4,369.4 370.4,394.2 363.4,394.2 363.4,369.4 359.9,367.3"/>
<text class="num" x="367.2" y="424.0">2</text>
<polygon fill="#ed1c24" stroke="#ed1c24" stroke-width="3.8" stroke-linejoin="round" points="575.9,338.0 582.9,367.3 579.8,369.4 579.8,395.0 572.0,395.0 572.0,369.4 568.9,367.3"/>
<text class="num" x="577.6" y="421.2">3</text>
<polygon fill="#ed1c24" stroke="#ed1c24" stroke-width="3.8" stroke-linejoin="round" points="731.0,341.2 738.1,367.9 735.1,370.0 735.1,395.0 726.9,395.0 726.9,370.0 723.9,367.9"/>
<text class="num" x="729.7" y="424.9">4</text>
<polygon fill="#ed1c24" stroke="#ed1c24" stroke-width="3.8" stroke-linejoin="round" points="905.1,310.9 913.4,338.4 909.0,340.5 909.0,367.9 901.2,367.9 901.2,340.5 896.8,338.4"/>
<text class="num" x="904.7" y="398.5">5</text>
<polygon fill="#ed1c24" stroke="#ed1c24" stroke-width="3.8" stroke-linejoin="round" points="1062.8,282.0 1069.4,308.9 1066.0,311.0 1066.0,338.2 1059.6,338.2 1059.6,311.0 1056.2,308.9"/>
<text class="num" x="1062.8" y="368.6">6</text>
<polygon fill="#ed1c24" stroke="#ed1c24" stroke-width="3.8" stroke-linejoin="round" points="1156.5,226.0 1163.2,252.7 1159.7,254.8 1159.7,282.1 1153.3,282.1 1153.3,254.8 1149.8,252.7"/>
<text class="num" x="1157.0" y="312.3">7</text>
<polygon fill="#ed1c24" stroke="#ed1c24" stroke-width="3.8" stroke-linejoin="round" points="1239.2,143.0 1245.0,168.3 1241.8,170.4 1241.8,196.6 1236.6,196.6 1236.6,170.4 1233.4,168.3"/>
<text class="num" x="1240.0" y="227.4">8</text>
</svg></body></html>
